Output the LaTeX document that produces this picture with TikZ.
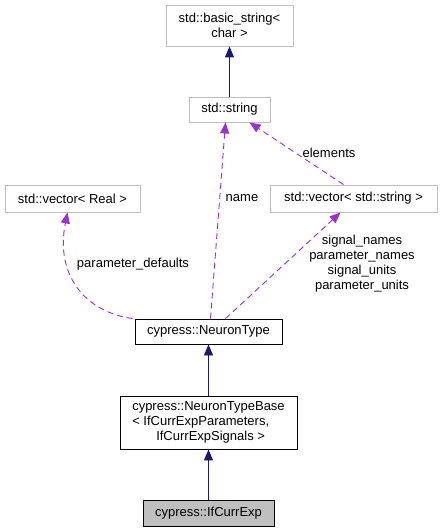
\documentclass[tikz,border=0pt]{standalone}
\usepackage{fontspec}
\setmainfont{Liberation Sans}
\usetikzlibrary{arrows.meta,calc}
\definecolor{edgeblue}{HTML}{191970}
\definecolor{edgepurple}{HTML}{9A32CD}
\definecolor{boxgray}{HTML}{BFBFBF}
\tikzset{
  txt/.style={font=\fontsize{13}{15}\selectfont},
  graybox/.style={txt,draw=boxgray,line width=0.9pt,inner sep=0pt,align=center},
  blackbox/.style={txt,draw=black,line width=0.9pt,inner sep=0pt,align=center},
  inherit/.style={draw=edgeblue,line width=0.9pt,-{Triangle[length=11pt,width=9pt]}},
  usage/.style={draw=edgepurple,line width=0.9pt,dash pattern=on 6pt off 4pt,-{Triangle[length=11pt,width=9pt]}},
  lbl/.style={txt,inner sep=0pt,align=center},
}
\begin{document}
\begin{tikzpicture}[x=1pt,y=-1pt]
\useasboundingbox[fill=white] (0,0) rectangle (443,532);
\node[graybox,minimum width=127pt,minimum height=41pt] (bs) at (229.5,25.5) {std::basic\_string<\\char >};
\node[graybox,minimum width=81pt,minimum height=25pt] (str) at (229.5,109.5) {std::string};
\node[graybox,minimum width=135pt,minimum height=27pt] (vr) at (72.5,198.5) {std::vector< Real >};
\node[graybox,minimum width=167pt,minimum height=27pt] (vs) at (353.5,198.5) {std::vector< std::string >};
\node[blackbox,minimum width=147pt,minimum height=25pt] (nt) at (208.5,331.5) {cypress::NeuronType};
\node[blackbox,minimum width=177pt,minimum height=53pt,align=left] (ntb) at (208.5,422.5) {cypress::NeuronTypeBase\\< IfCurrExpParameters,\\\hspace*{24pt}IfCurrExpSignals >};
\node[blackbox,fill=boxgray,minimum width=131pt,minimum height=26pt] (ifc) at (208.5,513) {cypress::IfCurrExp};

\node[lbl] (lname) at (242,198) {name};
\node[lbl] (lelem) at (329,153) {elements};
\node[lbl] (lsig) at (362,264) {signal\_names\\parameter\_names\\signal\_units\\parameter\_units};
\node[lbl] (lpd) at (133,264) {parameter\_defaults};

\draw[inherit] (str) -- (bs);
\draw[inherit] (ntb) -- (nt);
\draw[inherit] (ifc) -- (ntb);
\draw[usage] ([xshift=2pt]nt.north) -- ([xshift=-4pt]str.south);
\draw[usage] ([xshift=-10pt]vs.north) -- ([xshift=20pt]str.south);
\draw[usage] ([xshift=17pt]nt.north) -- ([xshift=-13pt]vs.south);
\draw[usage] ([xshift=-2pt]nt.north west) .. controls (85,312) and (55,275) .. ([xshift=-5pt]vr.south);
\end{tikzpicture}
\end{document}
